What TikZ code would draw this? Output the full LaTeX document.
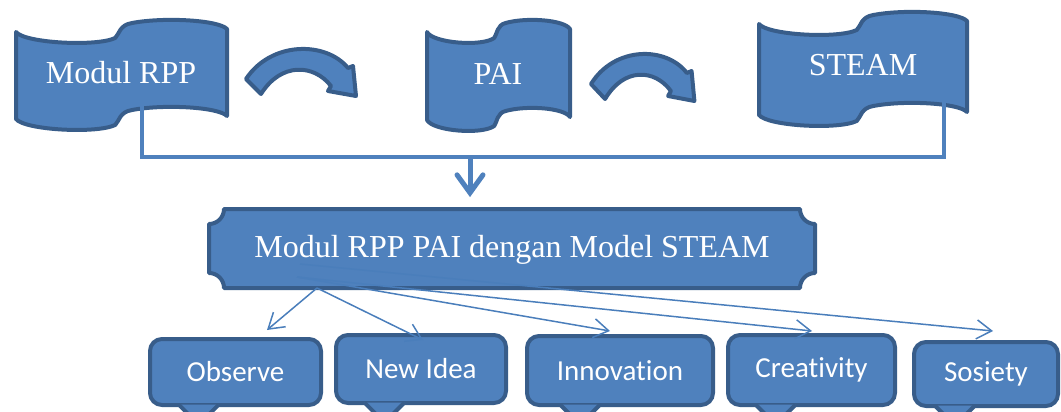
\documentclass[tikz,border=0pt]{standalone}
\usepackage{fontspec}
\setmainfont{Liberation Serif}
\newfontfamily\calibri[Ligatures=NoCommon]{Carlito}
\usetikzlibrary{arrows.meta,calc,positioning}

\definecolor{flagblue}{RGB}{79,129,189}
\definecolor{edgeblue}{RGB}{56,93,138}
\definecolor{lineblue}{RGB}{74,126,187}

\newcommand{\wavebanner}[4]{%
\begin{scope}[shift={(#1,#2)},xscale=#3/100]
\draw[flagshape] (0,0) .. controls (4,11) and (38,15) .. (47,6)
  .. controls (49,2) and (49,-7) .. (55,-9)
  .. controls (70,-15) and (96,-12) .. (100,-3)
  -- (100,#4-3) .. controls (96,#4-12) and (70,#4-15) .. (55,#4-9)
  .. controls (49,#4-7) and (49,#4+2) .. (47,#4+6)
  .. controls (38,#4+15) and (4,#4+11) .. (0,#4) -- cycle;
\end{scope}}

\newcommand{\bentarrow}[3]{%
\begin{scope}[shift={(#1,#2)},xscale=#3]
\draw[flagshape] (0,30) .. controls (25,-8) and (80,-8) .. (102,19)
  -- (107,17) -- (110,47) -- (82,42) -- (85,37)
  .. controls (68,15) and (35,13) .. (15,45) -- cycle;
\end{scope}}

\newcommand{\boxtab}[1]{%
\filldraw[draw=edgeblue,fill=flagblue,line width=2pt]
  ($(#1.south west)!0.29!(#1.south east)+(-10pt,1.2pt)$) -- ++(10pt,-10pt) -- ++(10pt,10pt);}

\begin{document}
\begin{tikzpicture}[x=0.5pt,y=-0.5pt,
  flagshape/.style={draw=edgeblue,fill=flagblue,line width=2pt,line join=round},
  title/.style={text=white,font=\fontsize{16}{19}\selectfont},
  idea/.style={rectangle,rounded corners=6pt,draw=edgeblue,fill=flagblue,line width=2pt,
    text=white,font=\calibri\fontsize{14.5}{17}\selectfont,inner sep=0pt},
  link/.style={draw=lineblue,line width=0.75pt,-{Straight Barb[length=7.5pt,width=9.5pt]}},
  bracket/.style={draw=flagblue,line width=2.25pt},
  drop/.style={draw=flagblue,line width=2.5pt,-{Straight Barb[length=9pt,width=13pt,line cap=round]}}]

\useasboundingbox (0,0) rectangle (1061,412);

\wavebanner{16}{32}{211}{87}
\wavebanner{427}{32}{143}{88}
\wavebanner{759}{24}{208}{91}

\bentarrow{246}{49}{1}
\bentarrow{591}{54}{0.94}

\coordinate (rpptail) at (142,103);
\coordinate (steamtail) at (944,92);
\coordinate (bar) at (470,157);
\draw[bracket] (rpptail) -- (rpptail |- bar) -- (steamtail |- bar) -- (steamtail);

\node[title] (rpp) at (121,73) {Modul RPP};
\node[title] (pai) at (498,74) {PAI};
\node[title] (steam) at (863,65) {STEAM};

\draw[flagshape] (224,209) -- (800,209) arc[start angle=180,end angle=90,radius=15]
  -- (815,273) arc[start angle=270,end angle=180,radius=15]
  -- (224,288) arc[start angle=360,end angle=270,radius=15]
  -- (209,224) arc[start angle=90,end angle=0,radius=15] -- cycle;
\node[title,minimum width=303pt,minimum height=39.5pt,inner sep=0pt] (main) at (512,250) {Modul RPP PAI dengan Model STEAM};

\draw[drop,shorten >=6.5pt] (bar) -- (bar |- main.north);

\node[idea,minimum width=85.5pt,minimum height=33pt] (obs) at (235.5,372) {Observe};
\node[idea,minimum width=85pt,minimum height=34pt] (newidea) at (421,369) {New Idea};
\node[idea,minimum width=93pt,minimum height=34.5pt] (innov) at (620,370.5) {Innovation};
\node[idea,minimum width=83.5pt,minimum height=35pt] (creat) at (811.5,370) {Creativity};
\node[idea,minimum width=72pt,minimum height=32pt] (sos) at (986,374) {Sosiety};

\boxtab{obs}
\boxtab{newidea}
\boxtab{innov}
\boxtab{creat}
\boxtab{sos}

\coordinate (fork) at (317,288);
\coordinate (forkb) at (297,277);
\coordinate (forkc) at (300,264);
\draw[link] (fork) -- ([xshift=15.75pt,yshift=3.5pt]obs.north);
\draw[link] (fork) -- ([xshift=1pt,yshift=-3.5pt]newidea.north);
\draw[link] (forkb) -- ([xshift=-5pt,yshift=1.5pt]innov.north);
\draw[link] (forkb) -- ([xshift=0.25pt,yshift=1pt]creat.north);
\draw[link] (forkc) -- ([xshift=3.5pt,yshift=4.5pt]sos.north);

\end{tikzpicture}
\end{document}
